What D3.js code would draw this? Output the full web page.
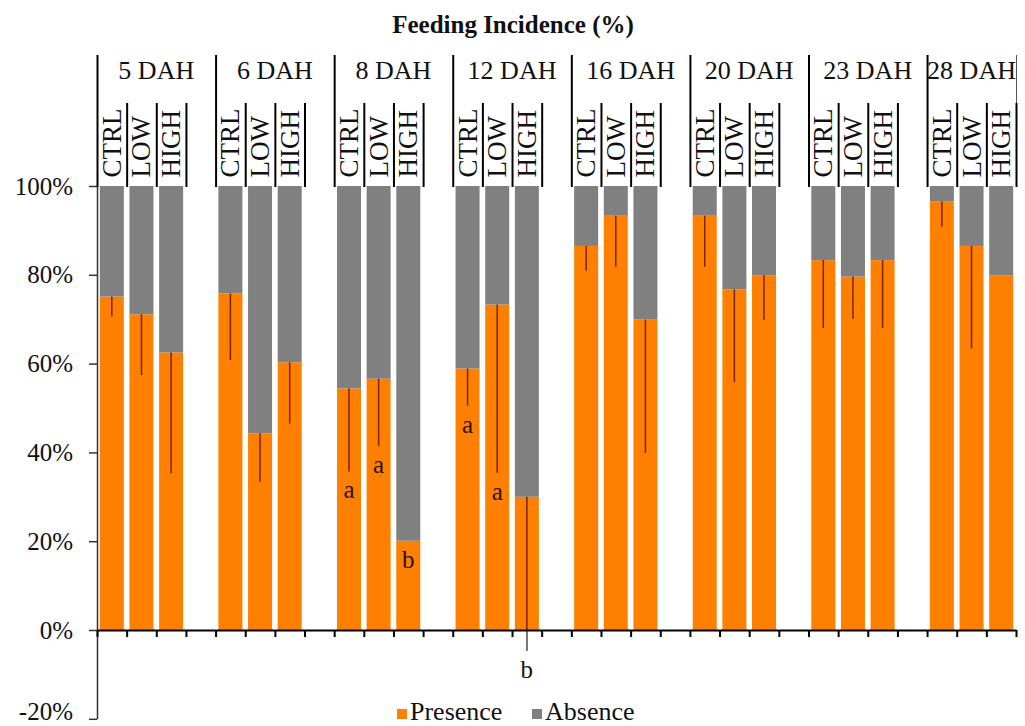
<!DOCTYPE html>
<html>
<head>
<meta charset="utf-8">
<title>Feeding Incidence</title>
<script src="https://cdn.jsdelivr.net/npm/d3@7"></script>
<style>
body { margin: 0; background: #fff; }
text { font-family: "Liberation Serif", "Times New Roman", serif; fill: #111; }
</style>
</head>
<body>
<script>

// values (% of larvae with food in gut)
var days = ["5 DAH", "6 DAH", "8 DAH", "12 DAH", "16 DAH", "20 DAH", "23 DAH", "28 DAH"];
var treatments = ["CTRL", "LOW", "HIGH"];

var presenceCtrl = [75.1, 75.8, 54.4, 58.9, 86.5, 93.3, 83.3, 96.5];
var presenceLow  = [71.1, 44.3, 56.6, 73.3, 93.3, 76.7, 79.6, 86.5];
var presenceHigh = [62.5, 60.3, 20.1, 30.0, 69.9, 79.9, 83.3, 79.9];

// error bars only go downwards
var errCtrl = [4.5, 15.0, 18.7, 8.4, 5.6, 11.5, 15.3, 5.7];
var errLow  = [13.7, 10.9, 15.2, 37.9, 11.5, 20.9, 9.5, 23.1];
var errHigh = [27.2, 13.8, 0, 34.7, 30.0, 10.0, 15.3, 0];

// significance letters
var lettersCtrl = ["", "", "a", "a", "", "", "", ""];
var lettersLow  = ["", "", "a", "a", "", "", "", ""];
var lettersHigh = ["", "", "b", "b", "", "", "", ""];

var yTicks = [-20, 0, 20, 40, 60, 80, 100];
var legendKeys = ["Presence", "Absence"];
var colors = ["#ff8000", "#808080"];


var w = 1025, h = 726;
var left = 97, right = 1016;

var svg = d3.select("body").append("svg")
    .attr("width", w)
    .attr("height", h);

// slots: three treatments per day plus an empty slot between days
var presence = [presenceCtrl, presenceLow, presenceHigh];
var errs = [errCtrl, errLow, errHigh];
var letters = [lettersCtrl, lettersLow, lettersHigh];

var slots = [];
var rows = [];
days.forEach(function(day, g) {
    treatments.forEach(function(t, k) {
        var key = day + "|" + t;
        slots.push(key);
        rows.push({key: key, day: day, treatment: t,
                   presence: presence[k][g], absence: 100 - presence[k][g],
                   err: errs[k][g], letter: letters[k][g]});
    });
    if (g < days.length - 1) slots.push(day + "|gap");
});

// scales
var xscale = d3.scaleBand()
    .domain(slots)
    .range([left, right])
    .paddingInner(0.19)
    .paddingOuter(0.095);

var edge = d3.scaleLinear()
    .domain([0, slots.length])
    .range([left, right]);

var yscale = d3.scaleLinear()
    .domain([-20, 100])
    .range([718.8, 186]);

// stacked bars
var series = d3.stack().keys(["presence", "absence"])(rows);

svg.selectAll("g.series")
    .data(series).enter().append("g")
    .attr("class", "series")
    .attr("fill", function(d, i) { return colors[i]; })
    .selectAll("rect")
    .data(function(d) { return d; }).enter().append("rect")
    .attr("x", function(d) { return xscale(d.data.key); })
    .attr("y", function(d) { return yscale(d[1]); })
    .attr("width", xscale.bandwidth())
    .attr("height", function(d) { return yscale(d[0]) - yscale(d[1]); });

// error bars
var withErr = rows.filter(function(d) { return d.err > 0; });
svg.selectAll("line.err")
    .data(withErr).enter().append("line")
    .attr("class", "err")
    .attr("x1", function(d) { return xscale(d.key) + xscale.bandwidth() / 2; })
    .attr("x2", function(d) { return xscale(d.key) + xscale.bandwidth() / 2; })
    .attr("y1", function(d) { return yscale(d.presence); })
    .attr("y2", function(d) { return yscale(d.presence - d.err); })
    .attr("stroke", "#7a2200")
    .attr("stroke-width", 1.5);

// part below zero shows grey on the white background
svg.selectAll("line.errneg")
    .data(withErr.filter(function(d) { return d.presence - d.err < 0; })).enter().append("line")
    .attr("class", "errneg")
    .attr("x1", function(d) { return xscale(d.key) + xscale.bandwidth() / 2; })
    .attr("x2", function(d) { return xscale(d.key) + xscale.bandwidth() / 2; })
    .attr("y1", yscale(0))
    .attr("y2", function(d) { return yscale(d.presence - d.err); })
    .attr("stroke", "#777")
    .attr("stroke-width", 1.5);

// letters under the error bars
svg.selectAll("text.letter")
    .data(rows.filter(function(d) { return d.letter != ""; })).enter().append("text")
    .attr("class", "letter")
    .attr("x", function(d) { return xscale(d.key) + xscale.bandwidth() / 2; })
    .attr("y", function(d) { return yscale(d.presence - d.err) + 27; })
    .attr("text-anchor", "middle")
    .attr("font-size", "25px")
    .style("fill", "#2a1000")
    .text(function(d) { return d.letter; });

// y axis
var yaxis = svg.append("g")
    .attr("transform", "translate(" + left + ",0)")
    .call(d3.axisLeft(yscale)
        .tickValues(yTicks)
        .tickFormat(function(d) { return d + "%"; })
        .tickSize(8)
        .tickSizeOuter(0)
        .tickPadding(16))
    .attr("font-family", "Liberation Serif").attr("font-size", "25px");
yaxis.selectAll("path, line").attr("stroke", "#333").attr("stroke-width", 1.5);
yaxis.selectAll("text").style("fill", "#111");
// lowest label sits at the page edge, lift it so it stays whole
yaxis.selectAll(".tick text").filter(function(d) { return d == -20; }).attr("dy", "0.04em");

// x axis at zero with ticks between slots
var xaxis = svg.append("g")
    .attr("transform", "translate(0," + yscale(0) + ")")
    .call(d3.axisBottom(edge)
        .tickValues(d3.range(0, slots.length + 1))
        .tickSize(7)
        .tickSizeOuter(0)
        .tickFormat(""));
xaxis.selectAll("path, line").attr("stroke", "#000").attr("stroke-width", 2);

// header: group lines and treatment lines
var groupEdges = days.map(function(d, g) { return g * 4; });
var subEdges = [];
days.forEach(function(d, g) { subEdges.push(g * 4 + 1, g * 4 + 2, g * 4 + 3); });

var headTop = 187;
var groupAxis = svg.append("g")
    .attr("transform", "translate(0," + headTop + ")")
    .call(d3.axisTop(edge).tickValues(groupEdges).tickSize(132).tickFormat(""));
groupAxis.select(".domain").remove();
groupAxis.selectAll("line").attr("stroke", "#000").attr("stroke-width", 2);

var endAxis = svg.append("g")
    .attr("transform", "translate(0," + headTop + ")")
    .call(d3.axisTop(edge).tickValues([slots.length]).tickSize(132).tickFormat(""));
endAxis.select(".domain").remove();
endAxis.selectAll("line").attr("stroke", "#555").attr("stroke-width", 1);

var subAxis = svg.append("g")
    .attr("transform", "translate(0," + headTop + ")")
    .call(d3.axisTop(edge).tickValues(subEdges).tickSize(84).tickFormat(""));
subAxis.select(".domain").remove();
subAxis.selectAll("line").attr("stroke", "#000").attr("stroke-width", 2);

// day labels
svg.selectAll("text.day")
    .data(days).enter().append("text")
    .attr("class", "day")
    .attr("x", function(d, g) {
        var a = g * 4, b = Math.min(g * 4 + 4, slots.length);
        return (edge(a) + edge(b)) / 2;
    })
    .attr("y", 79)
    .attr("text-anchor", "middle")
    .attr("font-size", "26px")
    .text(function(d) { return d; });

// treatment labels, rotated
svg.selectAll("text.treat")
    .data(rows).enter().append("text")
    .attr("class", "treat")
    .attr("transform", function(d) {
        return "translate(" + (xscale(d.key) + xscale.bandwidth() / 2 + 9) + ",177.5) rotate(-90)";
    })
    .attr("text-anchor", "start")
    .attr("font-size", "27px")
    .text(function(d) { return d.treatment; });

// title
svg.append("text")
    .text("Feeding Incidence (%)")
    .attr("x", 513)
    .attr("y", 33)
    .attr("text-anchor", "middle")
    .attr("font-size", "25px")
    .attr("font-weight", "bold");

// legend
var legendX = [397, 532];
var legend = svg.selectAll("g.legend")
    .data(legendKeys).enter().append("g")
    .attr("class", "legend")
    .attr("transform", function(d, i) { return "translate(" + legendX[i] + ",709)"; });
legend.append("rect")
    .attr("width", 10).attr("height", 10)
    .attr("fill", function(d, i) { return colors[i]; });
legend.append("text")
    .attr("x", 13).attr("y", 11)
    .attr("font-size", "26px")
    .text(function(d) { return d; });

</script>
</body>
</html>
